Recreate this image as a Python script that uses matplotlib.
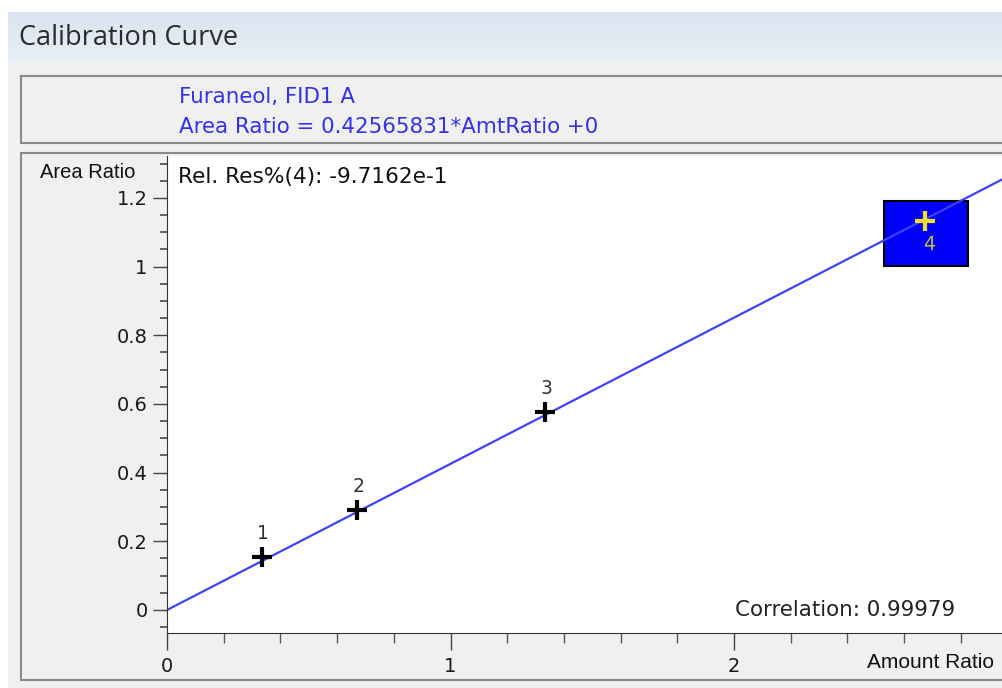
import numpy as np
import matplotlib
matplotlib.use('Agg')
import matplotlib.pyplot as plt
from matplotlib.patches import Rectangle
from matplotlib.ticker import MultipleLocator

plt.rcParams['font.family'] = ['DejaVu Sans']

# calibration levels
levels = ['1', '2', '3', '4']
amt_ratio = [0.335, 0.67, 1.333, 2.674]
area_ratio = [0.155, 0.291, 0.577, 1.132]
slope = 0.42565831
intercept = 0.0

W, H = 1002, 688
fig = plt.figure(figsize=(W / 100, H / 100), dpi=100)
fig.patch.set_facecolor('white')


def fx(px):
    return px / W


def fy(py):
    return 1 - py / H


def prect(x0, y0, x1, y1, **kw):
    # rectangle in pixel coords (top-left origin)
    r = Rectangle((fx(x0), fy(y1)), fx(x1 - x0), (y1 - y0) / H,
                  transform=fig.transFigure, **kw)
    fig.add_artist(r)
    return r


# window title bar (gradient)
bg = fig.add_axes([fx(8), fy(62), fx(W - 8), 50 / H], zorder=-20)
grad = np.linspace(0, 1, 50).reshape(-1, 1)
bg.imshow(grad, aspect='auto', cmap=matplotlib.colors.LinearSegmentedColormap.from_list(
    'bar', ['#d9e4f0', '#e9eff6']), extent=[0, 1, 0, 1])
bg.axis('off')
fig.text(fx(19), fy(38), 'Calibration Curve', fontsize=19.5, color='#2b2b2b',
         va='center', ha='left', family='Open Sans')

# gray client area
prect(8, 62, W, H, facecolor='#f0f0f0', edgecolor='none', zorder=-15)

# header box
prect(21, 76, W + 5, 143, facecolor='#f0f0f0', edgecolor='#8a8a8a', lw=1.5,
      zorder=-14)
fig.text(fx(179), fy(97), 'Furaneol, FID1 A', fontsize=15.4, color='#3232ee',
         va='center', ha='left')
fig.text(fx(179), fy(127), 'Area Ratio = 0.42565831*AmtRatio +0', fontsize=15.4,
         color='#3232ee', va='center', ha='left')

# plot panel box
prect(21, 153, W + 5, 680, facecolor='#f0f0f0', edgecolor='#8a8a8a', lw=1.5,
      zorder=-14)

# data axes
ax = fig.add_axes([fx(167), fy(633), fx(W - 167), (633 - 156) / H])
ax.set_facecolor('white')
ax.set_xlim(0, 2.945)
ax.set_ylim(-0.067, 1.322)

for s in ['top', 'right']:
    ax.spines[s].set_visible(False)
ax.spines['left'].set_color('#333333')
ax.spines['bottom'].set_color('#333333')

ax.xaxis.set_major_locator(MultipleLocator(1))
ax.xaxis.set_minor_locator(MultipleLocator(0.2))
ax.yaxis.set_major_locator(MultipleLocator(0.2))
ax.yaxis.set_minor_locator(MultipleLocator(0.05))
ax.set_yticks([0, 0.2, 0.4, 0.6, 0.8, 1.0, 1.2])
ax.set_yticklabels(['0', '0.2', '0.4', '0.6', '0.8', '1', '1.2'])
ax.set_xticks([0, 1, 2])
ax.set_xticklabels(['0', '1', '2'])
ax.tick_params(axis='both', which='major', direction='out', labelsize=14,
               color='#444444', labelcolor='#1a1a1a')
ax.tick_params(axis='y', which='major', length=10, width=1, pad=4)
ax.tick_params(axis='y', which='minor', length=5, width=1.3, color='#555555')
ax.tick_params(axis='x', which='major', length=12, width=1, pad=5)
ax.tick_params(axis='x', which='minor', length=7, width=1, color='#555555')

# fitted line
xs = np.array(ax.get_xlim())
ax.plot(xs, slope * xs + intercept, color='#4040ff', lw=1.6, zorder=2)

# highlighted level 4 box
ax.add_patch(Rectangle((2.529, 1.002), 0.296, 0.189, facecolor='#0000ff',
                       edgecolor='black', lw=1.5, zorder=1))

for i, (lab, xv, yv) in enumerate(zip(levels, amt_ratio, area_ratio)):
    if i < 3:
        ax.plot(xv, yv, marker='+', ms=15, mew=3, color='black', zorder=4)
        ax.annotate(lab, (xv, yv), xytext=(1, 10), textcoords='offset points',
                    ha='center', va='bottom', fontsize=13.5, color='#333333')
    else:
        ax.plot(xv, yv, marker='+', ms=15, mew=3, color='#f0e020', zorder=4)
        ax.annotate(lab, (xv, yv), xytext=(3, -10), textcoords='offset points',
                    ha='center', va='top', fontsize=13.5, color='#c8c030')

ax.text(0.013, 0.955, 'Rel. Res%(4): -9.7162e-1', transform=ax.transAxes,
        fontsize=15.6, color='#111111', ha='left', va='center')
ax.text(0.68, 0.048, 'Correlation: 0.99979', transform=ax.transAxes,
        fontsize=15.4, color='#222222', ha='left', va='center')

fig.text(fx(40), fy(172), 'Area Ratio', fontsize=14.5, color='#111111',
         ha='left', va='center', family='Liberation Sans')
fig.text(fx(867), fy(662), 'Amount Ratio', fontsize=15, color='#111111',
         ha='left', va='center', family='Liberation Sans')

fig.savefig('out.png', dpi=100, facecolor=fig.get_facecolor())
